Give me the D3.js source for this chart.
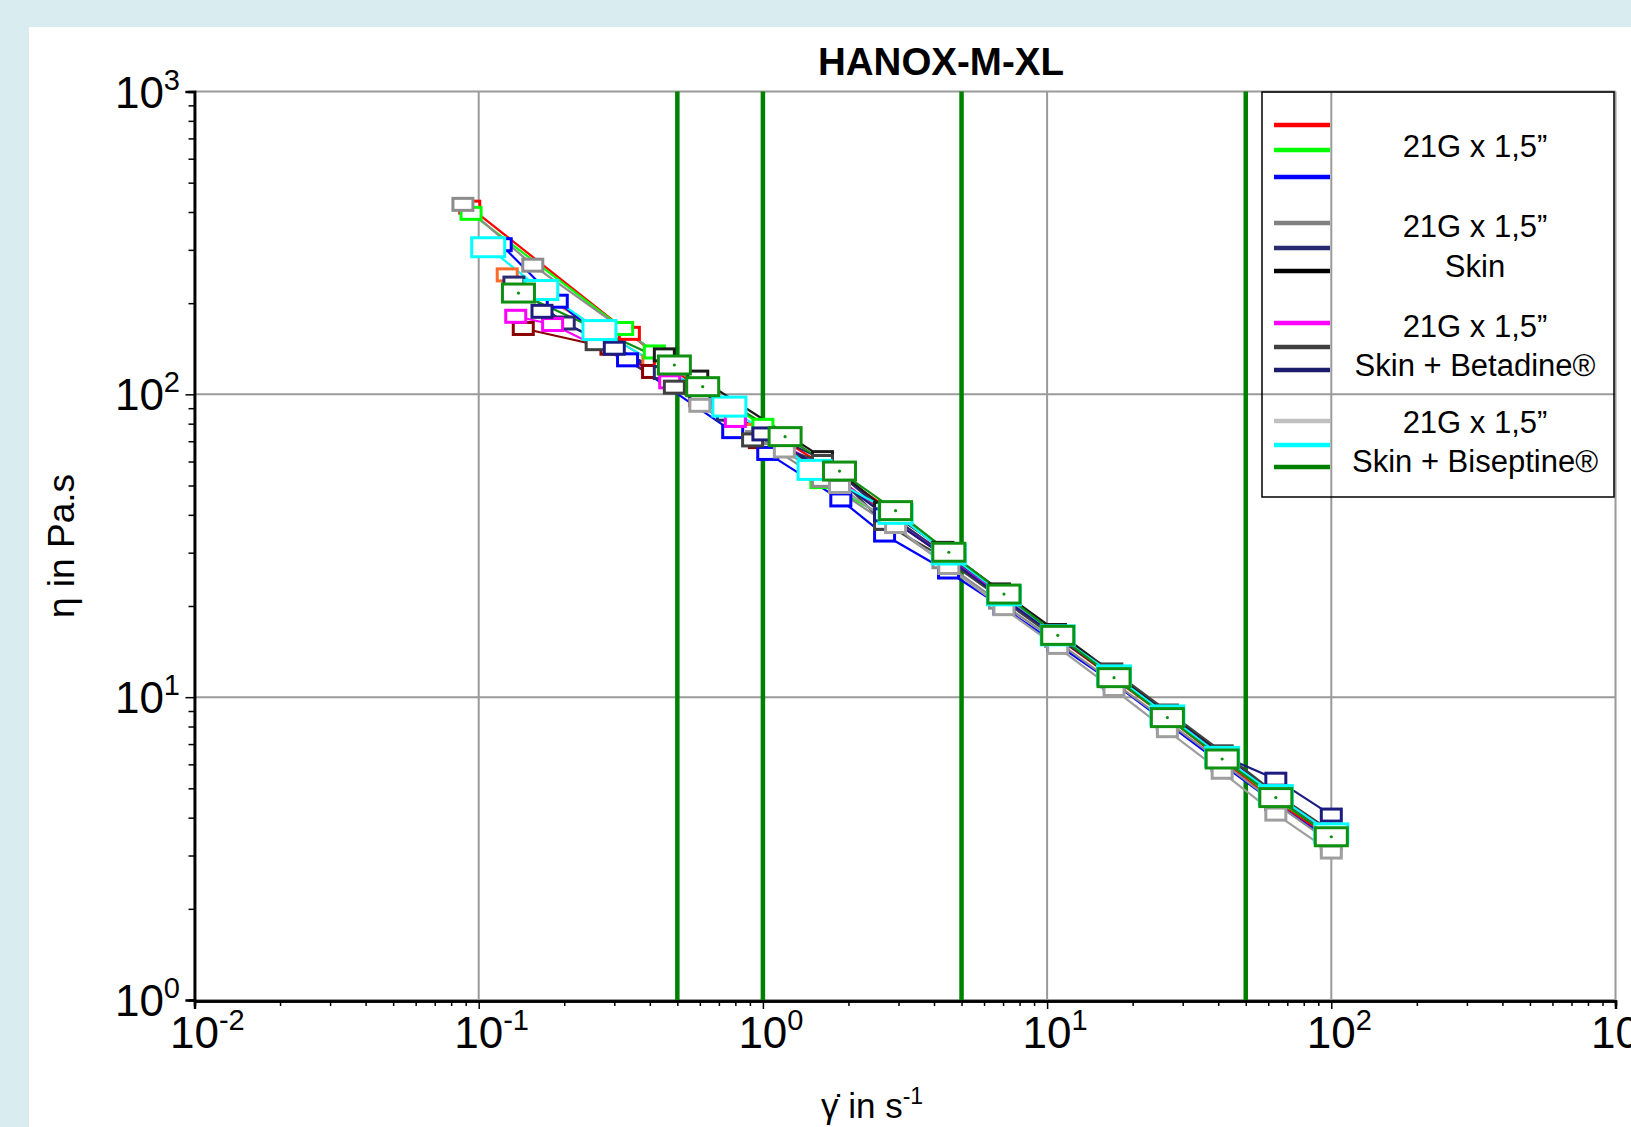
<!DOCTYPE html>
<html>
<head>
<meta charset="utf-8">
<script src="https://cdn.jsdelivr.net/npm/d3@7"></script>
<style>
  body { margin: 0; background: #d9ecef; }
  svg { display: block; font-family: Arial, "Liberation Sans", sans-serif; }
</style>
</head>
<body>
<div id="canvas"></div>
<script>
"use strict"

/* data: [shear rate in 1/s, viscosity in Pa.s] */
let red      = [[0.093,415],[0.339,159],[0.45,128],[0.8,84],[1.2,70],[1.86,54],[2.93,40.5],[4.51,29.5],[7.05,21.5],[10.9,15.8],[17.2,11.7],[26.5,8.6],[41.3,6.2],[63.8,4.5],[100,3.4]];
let lime     = [[0.094,396],[0.321,165],[0.415,138],[0.62,104],[1.0,79],[1.6,51.5],[2.7,39.5],[4.5,29.3],[7.05,21.7],[10.9,15.9],[17.2,11.7],[26.5,8.6],[41.3,6.3],[63.8,4.6],[100,3.5]];
let blue     = [[0.12,312],[0.189,203],[0.334,130],[0.783,75.3],[1.04,63.8],[1.88,44.8],[2.68,34.3],[4.5,25.9],[7.05,19.7],[10.9,14.9],[17.2,11.1],[26.5,8.2],[41.3,6.0],[63.8,4.45],[100,3.35]];
let gray     = [[0.088,424],[0.155,267],[0.5,122],[0.95,72],[1.62,52],[2.68,38],[4.3,28],[6.8,20.6],[10.7,15.4],[16.9,11.3],[26.5,8.3],[41.3,6.1],[63.8,4.45],[100,3.3]];
let navy     = [[0.133,233],[0.2,172],[0.45,118],[0.75,86],[1.62,61],[2.68,41],[4.3,30],[6.8,22],[10.7,16.2],[16.9,12],[26.5,8.8],[41.3,6.3],[63.8,4.65],[100,3.5]];
let black    = [[0.45,135],[0.59,114],[1.62,61.8],[2.68,42],[4.3,31],[6.8,22.6],[10.7,16.6],[16.9,12.1],[26.5,8.9],[41.3,6.5],[63.8,4.75],[100,3.6]];
let magenta  = [[0.135,181],[0.182,170],[0.47,110],[0.8,82],[1.62,58],[2.68,40],[4.3,29.6],[6.8,21.8],[10.7,16],[16.9,11.9],[26.5,8.7],[41.3,6.4],[63.8,4.7],[100,3.55]];
let darkgray = [[0.259,147],[0.488,105.6],[0.92,70.7],[1.62,60],[2.68,37.5],[4.3,29],[6.8,21.3],[10.7,15.7],[16.9,12.3],[26.5,9.0],[41.3,6.6],[63.8,4.8],[100,3.6]];
let navy2    = [[0.167,188],[0.3,142],[0.6,100],[1.0,74],[1.62,57],[2.68,40],[4.3,29.5],[6.8,21.6],[10.7,16],[16.9,11.8],[26.5,8.7],[41.3,6.4],[63.8,5.36],[100,4.08]];
let orange   = [[0.126,248],[0.41,128],[0.9,76],[1.7,54],[2.8,40],[4.4,29.3],[6.9,21.5],[10.8,15.8],[17,11.6],[26.5,8.55],[41.3,6.25],[63.8,4.6],[100,3.45]];
let darkred  = [[0.1435,165],[0.292,142],[0.409,119],[0.6,96],[0.972,69.8],[1.62,58],[2.68,40.2],[4.3,29.4],[6.8,21.6],[10.7,15.9],[16.9,11.7],[26.5,8.6],[41.3,6.3],[63.8,4.6],[100,3.45]];
let lightgray= [[0.6,92],[1.19,65],[1.86,49.6],[2.93,36.6],[4.51,26.8],[7.05,19.6],[10.9,14.6],[17.2,10.6],[26.5,7.75],[41.3,5.65],[63.8,4.11],[100,3.08]];
let cyan     = [[0.108,306],[0.166,221],[0.266,163],[0.762,91.1],[1.52,56.3],[2.93,40.3],[4.51,29.6],[7.05,21.7],[10.9,16],[17.2,11.8],[26.5,8.7],[41.3,6.35],[63.8,4.75],[100,3.55]];
let green    = [[0.138,216],[0.488,125],[0.614,106],[1.197,72.5],[1.86,55.8],[2.93,41.3],[4.51,30.1],[7.05,21.9],[10.9,16.0],[17.2,11.6],[26.5,8.56],[41.3,6.25],[63.8,4.66],[100,3.46]];

/* vertical markers on the shear axis */
let markerRates = [0.5, 1, 5, 50];

/* decade ticks */
let xDecades = [-2, -1, 0, 1, 2, 3];
let yDecades = [0, 1, 2, 3];

/* legend groups */
let legendLabels = [
    ["21G x 1,5\u201D"],
    ["21G x 1,5\u201D", "Skin"],
    ["21G x 1,5\u201D", "Skin + Betadine\u00AE"],
    ["21G x 1,5\u201D", "Skin + Biseptine\u00AE"]
];

let W = 1631, H = 1127;

let drawing = d3.select("#canvas")
    .append("svg")
    .attr("width", W)
    .attr("height", H);

/* background and white panel */
drawing.append("rect").attr("width", W).attr("height", H).attr("fill", "#d9ecef");
drawing.append("rect").attr("x", 29).attr("y", 27).attr("width", W - 29).attr("height", H - 27).attr("fill", "white");

let x = d3.scaleLog().domain([0.01, 1000]).range([194.5, 1615.5]);
let y = d3.scaleLog().domain([1, 1000]).range([1000, 91.5]);

/* grid */
let grid = drawing.append("g");
grid.selectAll(".vg").data(xDecades).enter().append("line")
    .attr("x1", d => x(Math.pow(10, d))).attr("x2", d => x(Math.pow(10, d)))
    .attr("y1", y(1000)).attr("y2", y(1))
    .attr("stroke", "#9a9a9a").attr("stroke-width", 2);
grid.selectAll(".hg").data(yDecades).enter().append("line")
    .attr("x1", x(0.01)).attr("x2", x(1000))
    .attr("y1", d => y(Math.pow(10, d))).attr("y2", d => y(Math.pow(10, d)))
    .attr("stroke", "#9a9a9a").attr("stroke-width", 2);

/* axes: major ticks and minor ticks */
let xMinor = x.ticks().filter(v => Math.abs(Math.log10(v) - Math.round(Math.log10(v))) > 1e-6);
let yMinor = y.ticks().filter(v => Math.abs(Math.log10(v) - Math.round(Math.log10(v))) > 1e-6);

let xAxisMajor = drawing.append("g").attr("transform", "translate(0,1001)")
    .call(d3.axisBottom(x).tickValues(xDecades.map(d => Math.pow(10, d))).tickSize(8).tickFormat(""));
let xAxisMinor = drawing.append("g").attr("transform", "translate(0,1001)")
    .call(d3.axisBottom(x).tickValues(xMinor).tickSize(5).tickFormat(""));
let yAxisMajor = drawing.append("g").attr("transform", "translate(194.5,0)")
    .call(d3.axisLeft(y).tickValues(yDecades.map(d => Math.pow(10, d))).tickSize(9).tickFormat(""));
let yAxisMinor = drawing.append("g").attr("transform", "translate(194.5,0)")
    .call(d3.axisLeft(y).tickValues(yMinor).tickSize(6).tickFormat(""));
[xAxisMajor, xAxisMinor, yAxisMajor, yAxisMinor].forEach(a => {
    a.selectAll("path").attr("stroke", "black").attr("stroke-width", 2.5);
    a.selectAll("line").attr("stroke", "black").attr("stroke-width", 1.5);
});

/* tick labels */
xDecades.forEach(d => {
    let t = drawing.append("text")
        .attr("x", x(Math.pow(10, d)) - 24.5)
        .attr("y", 1048)
        .attr("font-size", 44)
        .attr("fill", "black");
    t.append("tspan").text("10");
    t.append("tspan").attr("dy", -18).attr("font-size", 29).text(d);
});
yDecades.forEach(d => {
    let t = drawing.append("text")
        .attr("x", 180)
        .attr("y", y(Math.pow(10, d)) + 16)
        .attr("font-size", 44)
        .attr("text-anchor", "end")
        .attr("fill", "black");
    t.append("tspan").text("10");
    t.append("tspan").attr("dy", -18).attr("font-size", 29).text(d);
});

/* axis titles */
drawing.append("text")
    .attr("transform", "translate(74,546) rotate(-90)")
    .attr("text-anchor", "middle")
    .attr("font-size", 37)
    .text("\u03B7 in Pa.s");

let xt = drawing.append("text")
    .attr("x", 821).attr("y", 1118)
    .attr("font-size", 35);
xt.append("tspan").text("\u03B3\u0307  in s");
xt.append("tspan").attr("dy", -14).attr("font-size", 23).text("-1");

/* title */
drawing.append("text")
    .attr("x", 941).attr("y", 75)
    .attr("text-anchor", "middle")
    .attr("font-size", 38.5)
    .attr("font-weight", "bold")
    .text("HANOX-M-XL");

/* vertical green lines */
drawing.selectAll(".vm").data(markerRates).enter().append("line")
    .attr("x1", d => x(d)).attr("x2", d => x(d))
    .attr("y1", y(1000)).attr("y2", y(1))
    .attr("stroke", "#008000").attr("stroke-width", 4.5);

/* series */
let series = [
    { data: orange,    color: "#ff6a2a", w: 20, h: 12 },
    { data: darkred,   color: "#8b0000", w: 20, h: 12 },
    { data: red,       color: "#ff0000", w: 20, h: 12 },
    { data: lime,      color: "#00ff00", w: 20, h: 12 },
    { data: blue,      color: "#0000ff", w: 20, h: 12 },
    { data: gray,      color: "#8c8c8c", w: 20, h: 12 },
    { data: navy,      color: "#2a2a6e", w: 20, h: 12 },
    { data: black,     color: "#1a1a1a", w: 20, h: 12 },
    { data: magenta,   color: "#ff00ff", w: 20, h: 12 },
    { data: darkgray,  color: "#404040", w: 20, h: 12 },
    { data: navy2,     color: "#1c1c80", w: 20, h: 12 },
    { data: lightgray, color: "#9e9e9e", w: 20, h: 12 },
    { data: cyan,      color: "#00ffff", w: 33, h: 19 },
    { data: green,     color: "#109010", w: 32, h: 18 }
];

let line = d3.line().x(d => x(d[0])).y(d => y(d[1]));

let lines = drawing.append("g");
series.forEach(s => {
    lines.append("path")
        .attr("d", line(s.data))
        .attr("fill", "none")
        .attr("stroke", s.color)
        .attr("stroke-width", 2.2);
});

let marks = drawing.append("g");
series.forEach(s => {
    marks.selectAll(null).data(s.data).enter().append("rect")
        .attr("x", d => x(d[0]) - s.w / 2)
        .attr("y", d => y(d[1]) - s.h / 2)
        .attr("width", s.w)
        .attr("height", s.h)
        .attr("fill", "white")
        .attr("stroke", s.color)
        .attr("stroke-width", 3);
});
/* centre dot on the green markers */
marks.selectAll(".dot").data(green).enter().append("circle")
    .attr("cx", d => x(d[0])).attr("cy", d => y(d[1]))
    .attr("r", 1.6).attr("fill", "#109010");

/* legend */
let legendColors = ["#ff0000", "#00ff00", "#0000ff", "#808080", "#2a2a6e", "#000000",
                    "#ff00ff", "#404040", "#1c1c6e", "#c0c0c0", "#00ffff", "#008000"];
let legendLineY = [125, 150, 177, 223, 248, 271, 323, 347, 370, 421, 445, 467];
let legendTextY = [[157], [237, 277], [337, 376], [433, 472]];

let legend = drawing.append("g");
legend.append("rect")
    .attr("x", 1262).attr("y", 92).attr("width", 352).attr("height", 405)
    .attr("fill", "none").attr("stroke", "black").attr("stroke-width", 1.5);
legend.selectAll("line").data(legendColors).enter().append("line")
    .attr("x1", 1274).attr("x2", 1330)
    .attr("y1", (d, i) => legendLineY[i]).attr("y2", (d, i) => legendLineY[i])
    .attr("stroke", d => d).attr("stroke-width", 4.5);
legendLabels.forEach((g, i) => {
    g.forEach((txt, j) => {
        legend.append("text")
            .attr("x", 1475).attr("y", legendTextY[i][j])
            .attr("text-anchor", "middle")
            .attr("font-size", 31)
            .text(txt);
    });
});
</script>
</body>
</html>
